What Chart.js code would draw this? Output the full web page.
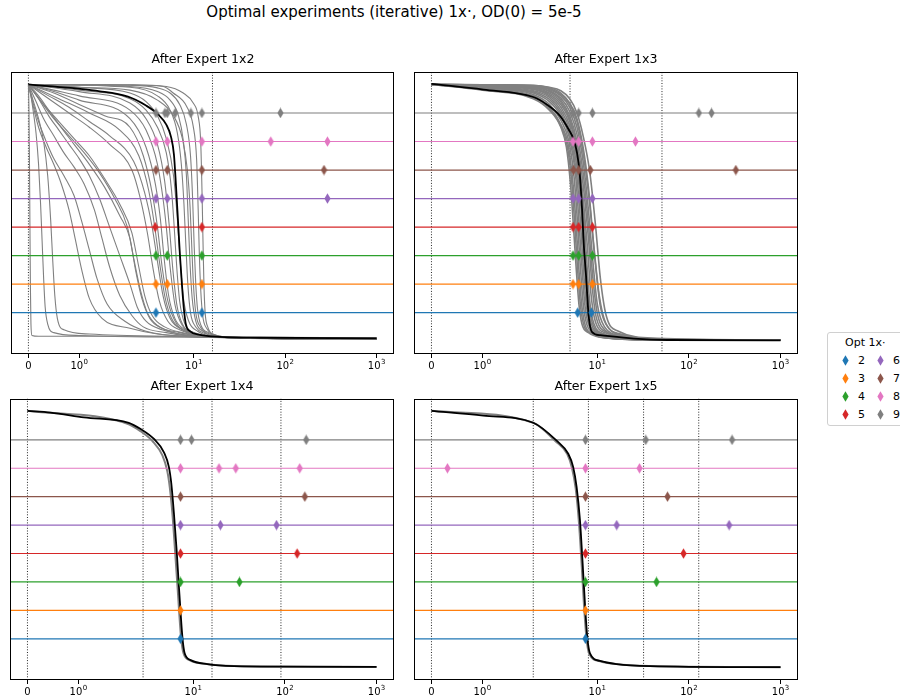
<!DOCTYPE html>
<html><head><meta charset="utf-8">
<script src="https://cdn.jsdelivr.net/npm/chart.js@4/dist/chart.umd.min.js"></script>
<style>
html,body{margin:0;padding:0;background:#fff;}
body{width:900px;height:699px;overflow:hidden;position:relative;font-family:"DejaVu Sans",sans-serif;color:#000;}
#suptitle{position:absolute;left:0;width:788px;top:3px;text-align:center;font-size:15px;white-space:nowrap;}
canvas{position:absolute;}
#legend{position:absolute;left:827px;top:332px;width:120px;height:92px;border:1px solid #d0d0d0;border-radius:3px;background:#fff;}
.lg{position:absolute;font-size:11px;white-space:nowrap;line-height:13px;}
</style></head><body>
<div id="suptitle">Optimal experiments (iterative) 1x·, OD(0) = 5e-5</div>
<canvas id="c0" width="400" height="329" style="left:0;top:45px"></canvas>
<canvas id="c1" width="410" height="329" style="left:400px;top:45px"></canvas>
<canvas id="c2" width="400" height="328" style="left:0;top:372px"></canvas>
<canvas id="c3" width="410" height="328" style="left:400px;top:372px"></canvas>
<div id="legend"></div>
<script>
// ---------------- data ----------------
const panelTitles = ['After Expert 1x2', 'After Expert 1x3', 'After Expert 1x4', 'After Expert 1x5'];
const xTickValues = [0, 1, 10, 100, 1000];
const xTickBase = ['0', '10', '10', '10', '10'];
const xTickExp = ['', '0', '1', '2', '3'];
const optLevels = [2, 3, 4, 5, 6, 7, 8, 9];
const optColors = ['#1f77b4', '#ff7f0e', '#2ca02c', '#d62728', '#9467bd', '#8c564b', '#e377c2', '#7f7f7f'];
const legendTitle = 'Opt 1x\u00b7';

// expert design concentrations (vertical dotted lines)
const expertTL = [0, 16];
const expertTR = [0, 5.04, 50.8];
const expertBL = [0, 2.83, 16, 90.5];
const expertBR = [0, 2, 8, 32, 128];

// optimal design concentrations, one list per Opt level 2..9
const optTL = [[3.85, 12.26], [3.85, 5.12, 12.26], [3.85, 5.12, 12.26], [3.78, 12.26], [3.85, 5.12, 12.26, 290], [3.85, 5.12, 12.26, 266], [3.85, 5.12, 12.26, 69.5, 290], [3.85, 4.83, 5.12, 6.26, 9.29, 12.26, 88.7]];
const optTR = [[6.10, 8.62], [5.43, 6.26, 8.84], [5.43, 6.26, 8.84], [5.43, 6.26, 8.84], [5.43, 6.26, 8.84], [5.5, 6.26, 8.40, 325], [5.43, 6.26, 8.84, 26.1], [5.43, 6.26, 8.84, 128.3, 176.6]];
const optBL = [[7.25], [7.25], [7.25, 31.9], [7.25, 136], [7.25, 19.8, 81], [7.25, 164.9], [7.25, 19.1, 29.1, 145], [7.25, 9.56, 170.8]];
const optBR = [[7.43], [7.43], [7.43, 44.3], [7.43, 87.3], [7.43, 16.3, 274.8], [7.43, 58.4], [0.314, 7.43, 28.9], [7.43, 33.8, 296]];

// best-estimate curves
const blackTLx = [0, 1.41, 1.96, 3, 4.1, 5, 5.62, 6.06, 6.37, 6.7, 7.04, 7.41, 7.79, 8.19, 9.06, 11.66, 19.3, 52.7, 1000];
const blackTLy = [10, 9.76, 9.57, 9.26, 8.94, 8.59, 8.17, 7.54, 6.49, 5.27, 4.04, 2.99, 2.12, 1.59, 1.35, 1.22, 1.15, 1.12, 1.10];
const blackTRx = [0, 1.02, 2.0, 2.83, 3.95, 4.87, 5.52, 6.01, 6.42, 6.82, 7.10, 7.54, 8.05, 8.77, 10.8, 25, 57.9, 1000];
const blackTRy = [10.02, 9.82, 9.56, 9.29, 8.88, 8.42, 8.07, 7.60, 6.90, 5.62, 4.45, 3.28, 1.88, 1.32, 1.21, 1.09, 1.04, 1.03];
const blackBLx = [0, 0.45, 1.11, 1.99, 2.66, 3.72, 4.78, 5.42, 5.76, 6.15, 6.58, 6.97, 7.60, 8.05, 9.36, 14.26, 27.8, 98, 1000];
const blackBLy = [10.02, 9.96, 9.79, 9.60, 9.38, 9.03, 8.56, 8.04, 7.45, 6.40, 5.11, 3.83, 2.07, 1.49, 1.25, 1.11, 1.04, 1.02, 1.01];
const blackBRx = [0, 1.02, 2.0, 3.60, 4.82, 5.46, 5.95, 6.47, 6.92, 7.33, 7.77, 8.32, 10.7, 16.3, 37.6, 1000];
const blackBRy = [10.02, 9.85, 9.60, 8.97, 8.51, 8.04, 7.34, 6.17, 4.65, 3.24, 2.07, 1.49, 1.22, 1.11, 1.04, 1.0];

// posterior sample curves [x, y]
const grayTL = [
 [[0,10],[2,9.99],[5,9.93],[7.66,9.70],[9.85,9.35],[11.16,8.88],[11.9,7.96],[12.3,6.21],[12.6,4.5],[12.9,3],[13.3,2.0],[14.2,1.5],[16,1.25],[30,1.12],[1000,1.08]],
 [[0,10],[2,9.98],[4.63,9.93],[5.95,9.70],[8.35,9.23],[9.85,8.53],[10.73,7.37],[11.16,5.62],[11.5,4],[11.9,2.8],[12.5,1.9],[13.8,1.45],[16,1.25],[35,1.1],[1000,1.07]],
 [[0,10],[2,9.97],[4,9.88],[5.5,9.7],[7,9.3],[8.3,8.6],[9.2,7.5],[9.7,6],[10.1,4.3],[10.5,3],[11,2.1],[12,1.55],[14.5,1.3],[25,1.12],[1000,1.08]],
 [[0,10],[1,9.9],[2,9.8],[4,9.45],[6,8.9],[7.5,8.1],[8.5,7],[9.1,5.7],[9.5,4.3],[9.9,3],[10.5,2],[11.8,1.5],[15,1.25],[30,1.1],[1000,1.07]],
 [[0,10],[2,9.93],[4,9.75],[5.5,9.45],[6.8,8.9],[7.7,8],[8.3,6.8],[8.7,5.2],[9.1,3.7],[9.6,2.5],[10.5,1.7],[12.5,1.35],[20,1.15],[1000,1.07]],
 [[0,10],[2,9.9],[4,9.6],[5.5,9.1],[6.6,8.3],[7.3,7.2],[7.8,5.8],[8.2,4.3],[8.6,3],[9.2,2],[10.5,1.5],[13,1.28],[25,1.12],[1000,1.07]],
 [[0,10],[1,9.9],[2,9.7],[3,9.4],[4,8.9],[5,8.1],[6,6.8],[6.6,5.3],[7.1,3.8],[7.7,2.5],[8.8,1.7],[11,1.35],[18,1.15],[1000,1.07]],
 [[0,10],[1,9.8],[2,9.5],[3,9.1],[4,8.5],[5,7.6],[5.7,6.3],[6.1,5],[6.5,3.6],[7,2.4],[8,1.6],[10,1.3],[16,1.15],[1000,1.07]],
 [[0,10],[1,9.75],[2,9.35],[3,8.8],[4,7.9],[4.8,6.6],[5.4,5],[5.9,3.5],[6.5,2.3],[7.5,1.6],[10,1.28],[16,1.15],[1000,1.07]],
 [[0,10],[0.5,9.8],[1,9.6],[2,9.1],[3,8.4],[4,7.2],[4.6,6],[5.0,5],[5.5,3.6],[6.2,2.3],[7.5,1.55],[10,1.3],[16,1.15],[1000,1.07]],
 [[0,10],[0.5,9.75],[1,9.45],[2,8.8],[3,7.8],[3.8,6.5],[4.3,5.3],[4.7,4],[5.3,2.6],[6.2,1.8],[8,1.4],[12,1.2],[1000,1.06]],
 [[0,10],[0.5,9.7],[1,9.3],[1.5,8.9],[2,8.5],[2.8,7.5],[3.5,6.2],[4,5],[4.5,3.6],[5.2,2.4],[6.5,1.6],[9,1.3],[16,1.15],[1000,1.06]],
 [[0,10],[0.6,9.5],[1.2,9.0],[1.8,8.4],[2.5,7.5],[3.2,6.3],[3.7,5.1],[4.2,3.8],[4.8,2.6],[5.7,1.8],[7.5,1.4],[12,1.2],[1000,1.06]],
 [[0,10],[0.4,9.6],[0.8,9.2],[1.2,8.7],[1.6,8.2],[2.2,7.3],[2.9,6.2],[3.5,5],[4,3.8],[4.6,2.6],[5.5,1.8],[7.5,1.4],[12,1.2],[1000,1.06]],
 [[0,10],[0.4,9.5],[0.8,9],[1.2,8.5],[1.6,7.9],[2.1,7],[2.6,6],[3.1,4.8],[3.6,3.5],[4.2,2.4],[5.2,1.7],[7,1.4],[12,1.2],[1000,1.06]],
 [[0,10],[0.3,9.3],[0.6,8.7],[0.9,8.1],[1.2,7.5],[1.5,6.7],[1.8,5.8],[2.1,4.8],[2.5,3.6],[2.9,2.6],[3.5,1.9],[4.8,1.5],[8,1.28],[16,1.15],[1000,1.08]],
 [[0,10],[0.25,9.4],[0.5,8.8],[0.8,8.2],[1.1,7.6],[1.4,6.9],[1.7,6],[1.95,5],[2.2,3.9],[2.6,2.8],[3.1,2.0],[4,1.55],[7,1.3],[15,1.15],[1000,1.08]],
 [[0,10],[0.2,9.6],[0.4,9.1],[0.6,8.6],[0.9,7.9],[1.2,7.2],[1.5,6.4],[1.8,5.4],[2.0,4.6],[2.3,3.5],[2.7,2.5],[3.3,1.8],[4.5,1.45],[7,1.25],[14,1.15],[1000,1.08]],
 [[0,10],[0.2,9.5],[0.4,8.9],[0.6,8.4],[0.8,7.9],[1.0,7.4],[1.2,6.8],[1.4,6.0],[1.6,5.0],[1.8,4.0],[2.0,3.0],[2.4,2.2],[3,1.7],[4.5,1.4],[8,1.22],[16,1.13],[1000,1.08]],
 [[0,10],[0.15,9.4],[0.3,8.8],[0.5,8.2],[0.7,7.6],[0.9,7.1],[1.1,6.5],[1.3,5.6],[1.45,4.6],[1.6,3.6],[1.8,2.6],[2.1,1.9],[2.8,1.5],[5,1.3],[12,1.15],[1000,1.08]],
 [[0,10],[0.1,9.3],[0.2,8.7],[0.35,8.0],[0.5,7.4],[0.7,6.8],[0.9,6.1],[1.05,5.2],[1.2,4.2],[1.35,3.2],[1.55,2.3],[1.9,1.7],[3,1.35],[8,1.18],[1000,1.1]],
 [[0,10],[0.1,9.2],[0.2,8.5],[0.35,7.8],[0.5,7.2],[0.65,6.5],[0.8,5.6],[0.92,4.6],[1.05,3.5],[1.2,2.5],[1.45,1.8],[2,1.45],[4,1.25],[12,1.15],[1000,1.1]],
 [[0,10],[0.1,9.4],[0.2,8.8],[0.3,8.0],[0.38,6.8],[0.44,5.2],[0.48,3.8],[0.52,2.6],[0.57,1.8],[0.7,1.4],[1.2,1.25],[4,1.17],[1000,1.1]],
 [[0,10],[0.05,9.6],[0.1,9.0],[0.15,8.3],[0.2,7.2],[0.24,5.8],[0.27,4.5],[0.3,3.2],[0.33,2.2],[0.38,1.6],[0.5,1.3],[1,1.2],[3,1.15],[1000,1.12]],
 [[0,10],[0.01,9.2],[0.02,7.5],[0.03,5],[0.04,2.8],[0.05,1.6],[0.07,1.2],[0.2,1.17],[5,1.17],[16,1.14],[1000,1.12]]
];
const grayTR = [
 [[0,10],[1,9.8],[2,9.5],[3,9.1],[4,8.5],[4.6,7.8],[5.1,6.5],[5.5,5.0],[5.9,3.5],[6.3,2.3],[6.8,1.6],[8,1.3],[12,1.12],[30,1.05],[1000,1.03]],
 [[0,10],[1,9.83],[2,9.55],[3,9.15],[4,8.55],[4.7,7.85],[5.25,6.6],[5.7,5.0],[6.1,3.5],[6.55,2.25],[7.1,1.58],[8.5,1.28],[13,1.11],[35,1.05],[1000,1.03]],
 [[0,10],[1,9.85],[2,9.6],[3,9.2],[4,8.6],[4.8,7.9],[5.4,6.6],[5.9,5.0],[6.3,3.5],[6.8,2.2],[7.4,1.55],[9,1.25],[14,1.1],[40,1.05],[1000,1.03]],
 [[0,10],[1,9.88],[2,9.65],[3,9.3],[4,8.75],[4.9,8.0],[5.6,6.7],[6.1,5.1],[6.55,3.55],[7.05,2.25],[7.7,1.58],[9.5,1.26],[14,1.1],[40,1.05],[1000,1.03]],
 [[0,10],[1,9.9],[2,9.7],[3,9.4],[4,8.9],[5,8.1],[5.8,6.8],[6.3,5.2],[6.8,3.6],[7.3,2.3],[8,1.6],[10,1.25],[15,1.1],[40,1.05],[1000,1.03]],
 [[0,10],[1,9.91],[2,9.74],[3,9.48],[4,9.0],[5,8.25],[5.9,6.95],[6.5,5.35],[7.0,3.7],[7.55,2.35],[8.3,1.6],[10.5,1.25],[16,1.1],[45,1.04],[1000,1.03]],
 [[0,10],[1,9.92],[2,9.78],[3,9.55],[4,9.1],[5,8.4],[6,7.1],[6.7,5.5],[7.2,3.8],[7.8,2.4],[8.6,1.6],[11,1.25],[17,1.1],[50,1.04],[1000,1.03]],
 [[0,10],[1,9.94],[2,9.82],[3,9.6],[4,9.2],[5,8.55],[6,7.35],[6.85,5.65],[7.4,3.9],[8.0,2.45],[8.9,1.6],[11.5,1.25],[18,1.1],[55,1.04],[1000,1.03]],
 [[0,10],[1,9.95],[2,9.85],[3,9.65],[4,9.3],[5,8.7],[6,7.6],[7,5.8],[7.6,4.0],[8.2,2.5],[9.2,1.6],[12,1.25],[20,1.1],[60,1.04],[1000,1.03]],
 [[0,10],[1,9.96],[2,9.88],[3,9.7],[4,9.38],[5,8.8],[6,7.8],[6.9,6.2],[7.8,4.3],[8.5,2.7],[9.5,1.7],[12.5,1.28],[21,1.11],[60,1.05],[1000,1.03]],
 [[0,10],[1,9.97],[2,9.9],[3,9.75],[4,9.45],[5,8.9],[6,8.0],[7,6.5],[8,4.6],[8.8,2.9],[9.8,1.8],[13,1.3],[22,1.12],[60,1.05],[1000,1.03]],
 [[0,10],[1,9.975],[2,9.92],[3,9.78],[4,9.52],[5,9.05],[6,8.25],[7,6.9],[8,5.1],[8.9,3.3],[9.9,2.05],[12,1.4],[19,1.16],[55,1.05],[1000,1.03]],
 [[0,10],[1,9.98],[2,9.93],[3,9.82],[4,9.6],[5,9.2],[6,8.5],[7,7.3],[8,5.6],[9,3.7],[10,2.3],[12,1.5],[18,1.2],[50,1.06],[1000,1.03]],
 [[0,10],[1,9.98],[2,9.95],[3,9.85],[4,9.65],[5,9.3],[6,8.7],[7,7.6],[8.2,5.9],[9.4,3.9],[10.7,2.3],[13,1.5],[20,1.2],[55,1.06],[1000,1.03]],
 [[0,10],[1,9.99],[2,9.96],[3,9.88],[4,9.7],[5,9.35],[6,8.8],[7,7.8],[8,6.4],[9.2,4.3],[10.5,2.6],[12.5,1.6],[18,1.25],[50,1.07],[1000,1.04]],
 [[0,10],[1,9.99],[2,9.97],[3,9.9],[4,9.78],[5,9.5],[6,9.0],[7,8.2],[8.3,6.9],[9.6,5.0],[10.8,3.2],[12.5,1.9],[17,1.35],[45,1.1],[1000,1.04]]
];
const grayBL = [
 [[0,10.02],[1.99,9.55],[2.66,9.3],[3.6,8.95],[4.6,8.45],[5.2,7.9],[5.55,7.3],[5.95,6.3],[6.35,5.0],[6.75,3.75],[7.35,2.05],[7.8,1.5],[9.1,1.25],[14,1.11],[28,1.04],[1000,1.01]]
];
const grayBR = [
 [[0,10.02],[2.0,9.6],[3.5,8.95],[4.7,8.5],[5.3,8.0],[5.8,7.3],[6.3,6.1],[6.75,4.6],[7.15,3.2],[7.6,2.05],[8.15,1.48],[10.5,1.22],[16,1.11],[37,1.04],[1000,1.0]]
];

// ---------------- symlog scale (linthresh 2, linscale 1) ----------------
const LINTHRESH = 2, LINSCALE = 1 / (1 - 1 / 10);
function symT(v) { const a = Math.abs(v); return a <= LINTHRESH ? v * LINSCALE : Math.sign(v) * LINTHRESH * (LINSCALE + Math.log10(a / LINTHRESH)); }
function symInv(t) { const a = Math.abs(t); return a <= LINTHRESH * LINSCALE ? t / LINSCALE : Math.sign(t) * LINTHRESH * Math.pow(10, a / LINTHRESH - LINSCALE); }
const tSpan = symT(1000) - symT(0);
const X_MIN = symInv(-0.05 * tSpan), X_MAX = symInv(symT(1000) + 0.05 * tSpan);
const Y_MIN = 0.55, Y_MAX = 10.45;

class SymlogScale extends Chart.Scale {
  determineDataLimits() { this.min = this.options.min; this.max = this.options.max; }
  buildTicks() { return xTickValues.map(v => ({ value: v })); }
  configure() { super.configure(); this._t0 = symT(this.min); this._tr = symT(this.max) - this._t0; }
  getPixelForValue(v) { return this.getPixelForDecimal((symT(v) - this._t0) / this._tr); }
  getValueForPixel(p) { return symInv(this.getDecimalForPixel(p) * this._tr + this._t0); }
  getPixelForTick(i) { const t = this.ticks; return (i < 0 || i >= t.length) ? NaN : this.getPixelForValue(t[i].value); }
  getLabelForValue(v) { return String(v); }
}
SymlogScale.id = 'symlog';
SymlogScale.defaults = {};
Chart.register(SymlogScale);

function diamond(color) {
  const c = document.createElement('canvas'); c.width = 7; c.height = 11;
  const g = c.getContext('2d'); g.fillStyle = color; g.beginPath();
  g.moveTo(3.5, 0.3); g.lineTo(6.6, 5.5); g.lineTo(3.5, 10.7); g.lineTo(0.4, 5.5); g.closePath(); g.fill();
  return c;
}
const diamonds = optColors.map(diamond);

// axes frame + mathtext-like tick labels (10 with raised exponent)
const framePlugin = {
  id: 'frame',
  afterDraw(chart) {
    const { ctx, chartArea: a } = chart;
    const l = Math.round(a.left) + 0.5, r = Math.round(a.right) - 0.5, t = Math.round(a.top) + 0.5, b = Math.round(a.bottom) - 0.5;
    ctx.save(); ctx.strokeStyle = '#000'; ctx.lineWidth = 1; ctx.strokeRect(l, t, r - l, b - t);
    const xs = chart.scales.x; const base = a.bottom + 14.5;
    ctx.fillStyle = '#000'; ctx.textBaseline = 'alphabetic'; ctx.textAlign = 'left';
    xTickValues.forEach((v, i) => {
      const px = xs.getPixelForValue(v);
      ctx.font = '10px "DejaVu Sans"'; const w1 = ctx.measureText(xTickBase[i]).width;
      ctx.font = '7px "DejaVu Sans"'; const w2 = xTickExp[i] ? ctx.measureText(xTickExp[i]).width + 0.3 : 0;
      const x0 = px - (w1 + w2) / 2;
      ctx.font = '10px "DejaVu Sans"'; ctx.fillText(xTickBase[i], x0, base);
      if (xTickExp[i]) { ctx.font = '7px "DejaVu Sans"'; ctx.fillText(xTickExp[i], x0 + w1 + 0.3, base - 4.2); }
    });
    ctx.restore();
  }
};

function makePanel(id, cfg) {
  const ds = [];
  cfg.vlines.forEach(v => ds.push({ data: [[v, Y_MIN], [v, Y_MAX]], borderColor: 'rgba(0,0,0,0.85)', borderWidth: 1, borderDash: [1, 1.7], pointRadius: 0, order: 6 }));
  cfg.gray.forEach(c => ds.push({ data: c, borderColor: '#808080', borderWidth: cfg.grayWidth, pointRadius: 0, cubicInterpolationMode: 'monotone', order: 5 }));
  optLevels.forEach((k, i) => ds.push({ data: [[X_MIN, k], [X_MAX, k]], borderColor: optColors[i], borderWidth: 1.2, pointRadius: 0, order: 4 }));
  ds.push({ data: cfg.bx.map((x, i) => [x, cfg.by[i]]), borderColor: '#000', borderWidth: 1.8, pointRadius: 0, cubicInterpolationMode: 'monotone', order: 2 });
  optLevels.forEach((k, i) => ds.push({ data: cfg.opt[i].map(x => [x, k]), showLine: false, pointStyle: diamonds[i], pointRadius: 5, order: 1 }));
  new Chart(document.getElementById(id), {
    type: 'line',
    data: { datasets: ds },
    options: {
      responsive: false, animation: false, devicePixelRatio: 1, events: [],
      layout: { padding: { left: cfg.padL, right: cfg.padR, top: 0, bottom: 0 } },
      plugins: {
        legend: { display: false }, tooltip: { enabled: false },
        title: { display: true, text: cfg.title, color: '#000', font: { family: 'DejaVu Sans', size: 12.6, weight: 'normal', lineHeight: 1.2 }, padding: { top: 6.9, bottom: 4.6 } }
      },
      scales: {
        x: {
          type: 'symlog', min: X_MIN, max: X_MAX, position: 'bottom',
          grid: { display: true, drawOnChartArea: false, drawTicks: true, tickLength: 4, tickWidth: 1, tickColor: '#000' },
          border: { display: false },
          ticks: { display: false, autoSkip: false, maxRotation: 0, minRotation: 0 },
          afterFit: s => { s.height = 20; }
        },
        y: { type: 'linear', display: false, min: Y_MIN, max: Y_MAX }
      }
    },
    plugins: [framePlugin]
  });
}

makePanel('c0', { title: panelTitles[0], padL: 11, padR: 5, vlines: expertTL, gray: grayTL, grayWidth: 1.1, bx: blackTLx, by: blackTLy, opt: optTL });
makePanel('c1', { title: panelTitles[1], padL: 14, padR: 12, vlines: expertTR, gray: grayTR, grayWidth: 1.6, bx: blackTRx, by: blackTRy, opt: optTR });
makePanel('c2', { title: panelTitles[2], padL: 10, padR: 6, vlines: expertBL, gray: grayBL, grayWidth: 2, bx: blackBLx, by: blackBLy, opt: optBL });
makePanel('c3', { title: panelTitles[3], padL: 14, padR: 12, vlines: expertBR, gray: grayBR, grayWidth: 2, bx: blackBRx, by: blackBRy, opt: optBR });

// ---------------- legend ----------------
(function () {
  const body = document.body;
  const t = document.createElement('div'); t.className = 'lg'; t.textContent = legendTitle;
  t.style.left = '845px'; t.style.top = '336px'; body.appendChild(t);
  optLevels.forEach((k, i) => {
    const col = i < 4 ? 0 : 1, row = i % 4;
    const cy = 360.7 + row * 18;
    const mx = col === 0 ? 845 : 880;
    const m = diamond(optColors[i]); m.style.position = 'absolute';
    m.style.left = (mx - 3.5) + 'px'; m.style.top = (cy - 5.5) + 'px'; body.appendChild(m);
    const lab = document.createElement('div'); lab.className = 'lg'; lab.textContent = String(k);
    lab.style.left = (mx + 13) + 'px'; lab.style.top = (cy - 6.5) + 'px'; body.appendChild(lab);
  });
})();
</script>
</body></html>
